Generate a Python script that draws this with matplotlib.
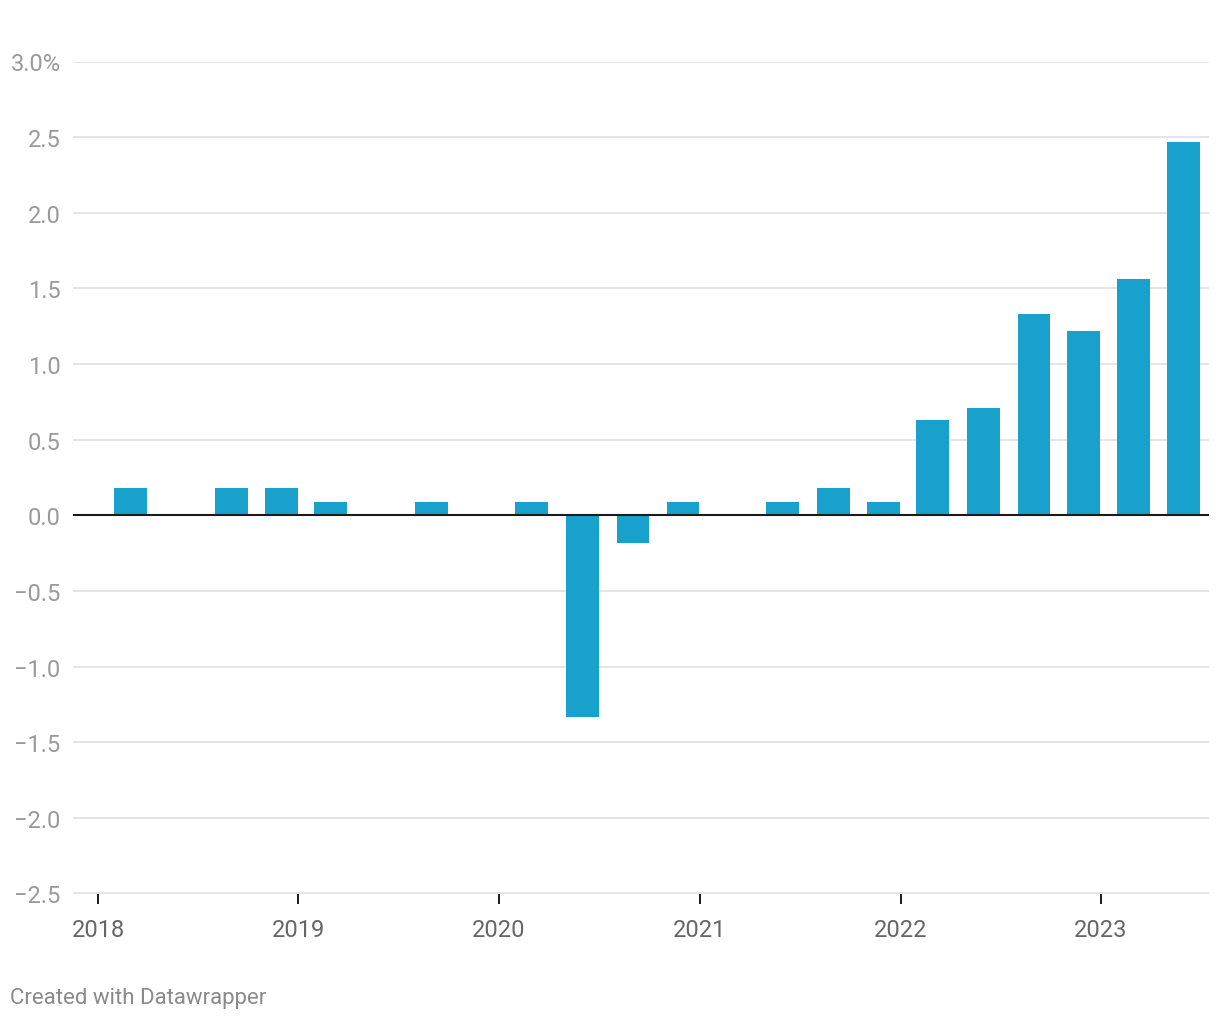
import numpy as np
import pandas as pd
import matplotlib
matplotlib.use("Agg")
import matplotlib.pyplot as plt
import matplotlib.dates as mdates

plt.rcParams['font.family'] = ['Roboto', 'DejaVu Sans']

# quarterly values, %
dates = pd.to_datetime([
    "2018-03-01", "2018-06-01", "2018-09-01", "2018-12-01",
    "2019-03-01", "2019-06-01", "2019-09-01", "2019-12-01",
    "2020-03-01", "2020-06-01", "2020-09-01", "2020-12-01",
    "2021-03-01", "2021-06-01", "2021-09-01", "2021-12-01",
    "2022-03-01", "2022-06-01", "2022-09-01", "2022-12-01",
    "2023-03-01", "2023-06-01",
])
values = [0.18, 0.0, 0.18, 0.18,
          0.09, 0.0, 0.09, 0.0,
          0.09, -1.33, -0.18, 0.09,
          0.0, 0.09, 0.18, 0.09,
          0.63, 0.71, 1.33, 1.22,
          1.56, 2.47]

y_ticks = [3.0, 2.5, 2.0, 1.5, 1.0, 0.5, 0.0, -0.5, -1.0, -1.5, -2.0, -2.5]
y_labels = ["3.0%", "2.5", "2.0", "1.5", "1.0", "0.5", "0.0",
            "\u22120.5", "\u22121.0", "\u22121.5", "\u22122.0", "\u22122.5"]
year_ticks = pd.to_datetime(["2018-01-01", "2019-01-01", "2020-01-01",
                             "2021-01-01", "2022-01-01", "2023-01-01"])
year_labels = ["2018", "2019", "2020", "2021", "2022", "2023"]

W, H = 1220, 1020
fig = plt.figure(figsize=(W / 100, H / 100), dpi=100)
ax = fig.add_axes([73 / W, 1 - 894.5 / H, (1209 - 73) / W, (894.5 - 62.5) / H])

x = mdates.date2num(dates)
ax.bar(x, values, width=60, color="#18a1cd", zorder=2)
ax.axhline(0, color="#1a1a1a", lw=1.5, zorder=3)

ax.set_ylim(-2.5, 3.0)
x0 = mdates.date2num(year_ticks[0])
px_day = (1101 - 98) / (mdates.date2num(year_ticks[-1]) - x0)
ax.set_xlim(x0 - (98 - 73) / px_day, x0 + (1209 - 98) / px_day)

ax.set_yticks(y_ticks)
ax.set_yticklabels(y_labels)
ax.yaxis.grid(True, color="#e3e3e3", lw=1.3, zorder=0)
ax.tick_params(axis="y", length=0, pad=9, labelsize=17, labelcolor="#9a9a9a")

ax.set_xticks(mdates.date2num(year_ticks))
ax.set_xticklabels(year_labels)
ax.tick_params(axis="x", length=7, width=1.4, color="#1a1a1a", pad=11,
               labelsize=17, labelcolor="#666666")

for s in ax.spines.values():
    s.set_visible(False)

fig.text(10 / W, 1 - 999 / H, "Created with Datawrapper", fontsize=16,
         color="#8a8a8a", ha="left", va="center")

fig.savefig("out.png", dpi=100)
